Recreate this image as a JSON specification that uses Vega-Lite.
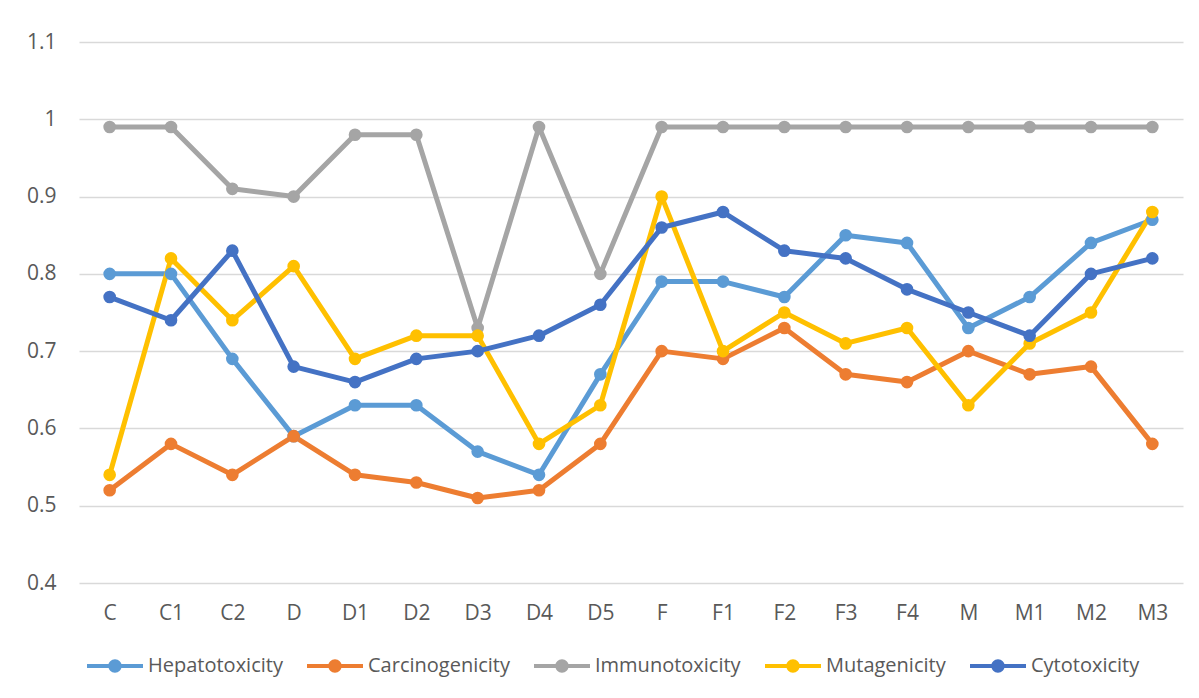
{
  "$schema": "https://vega.github.io/schema/vega-lite/v6.json",
  "width": 1104,
  "height": 541,
  "autosize": {"type": "none"},
  "padding": {"left": 79, "top": 42, "right": 16, "bottom": 115},
  "background": "white",
  "config": {
    "view": {"stroke": null},
    "font": "Open Sans",
    "axis": {"labelFont": "Open Sans", "labelFontSize": 21, "labelColor": "#595959", "gridColor": "#D9D9D9", "gridWidth": 1.5, "domain": false, "ticks": false, "title": null},
    "legend": {"labelFont": "Open Sans", "labelFontSize": 20, "labelColor": "#595959"}
  },
  "data": {
    "values": [
      {"cat": "C", "series": "Hepatotoxicity", "v": 0.80},
      {"cat": "C1", "series": "Hepatotoxicity", "v": 0.80},
      {"cat": "C2", "series": "Hepatotoxicity", "v": 0.69},
      {"cat": "D", "series": "Hepatotoxicity", "v": 0.59},
      {"cat": "D1", "series": "Hepatotoxicity", "v": 0.63},
      {"cat": "D2", "series": "Hepatotoxicity", "v": 0.63},
      {"cat": "D3", "series": "Hepatotoxicity", "v": 0.57},
      {"cat": "D4", "series": "Hepatotoxicity", "v": 0.54},
      {"cat": "D5", "series": "Hepatotoxicity", "v": 0.67},
      {"cat": "F", "series": "Hepatotoxicity", "v": 0.79},
      {"cat": "F1", "series": "Hepatotoxicity", "v": 0.79},
      {"cat": "F2", "series": "Hepatotoxicity", "v": 0.77},
      {"cat": "F3", "series": "Hepatotoxicity", "v": 0.85},
      {"cat": "F4", "series": "Hepatotoxicity", "v": 0.84},
      {"cat": "M", "series": "Hepatotoxicity", "v": 0.73},
      {"cat": "M1", "series": "Hepatotoxicity", "v": 0.77},
      {"cat": "M2", "series": "Hepatotoxicity", "v": 0.84},
      {"cat": "M3", "series": "Hepatotoxicity", "v": 0.87},
      {"cat": "C", "series": "Carcinogenicity", "v": 0.52},
      {"cat": "C1", "series": "Carcinogenicity", "v": 0.58},
      {"cat": "C2", "series": "Carcinogenicity", "v": 0.54},
      {"cat": "D", "series": "Carcinogenicity", "v": 0.59},
      {"cat": "D1", "series": "Carcinogenicity", "v": 0.54},
      {"cat": "D2", "series": "Carcinogenicity", "v": 0.53},
      {"cat": "D3", "series": "Carcinogenicity", "v": 0.51},
      {"cat": "D4", "series": "Carcinogenicity", "v": 0.52},
      {"cat": "D5", "series": "Carcinogenicity", "v": 0.58},
      {"cat": "F", "series": "Carcinogenicity", "v": 0.70},
      {"cat": "F1", "series": "Carcinogenicity", "v": 0.69},
      {"cat": "F2", "series": "Carcinogenicity", "v": 0.73},
      {"cat": "F3", "series": "Carcinogenicity", "v": 0.67},
      {"cat": "F4", "series": "Carcinogenicity", "v": 0.66},
      {"cat": "M", "series": "Carcinogenicity", "v": 0.70},
      {"cat": "M1", "series": "Carcinogenicity", "v": 0.67},
      {"cat": "M2", "series": "Carcinogenicity", "v": 0.68},
      {"cat": "M3", "series": "Carcinogenicity", "v": 0.58},
      {"cat": "C", "series": "Immunotoxicity", "v": 0.99},
      {"cat": "C1", "series": "Immunotoxicity", "v": 0.99},
      {"cat": "C2", "series": "Immunotoxicity", "v": 0.91},
      {"cat": "D", "series": "Immunotoxicity", "v": 0.90},
      {"cat": "D1", "series": "Immunotoxicity", "v": 0.98},
      {"cat": "D2", "series": "Immunotoxicity", "v": 0.98},
      {"cat": "D3", "series": "Immunotoxicity", "v": 0.73},
      {"cat": "D4", "series": "Immunotoxicity", "v": 0.99},
      {"cat": "D5", "series": "Immunotoxicity", "v": 0.80},
      {"cat": "F", "series": "Immunotoxicity", "v": 0.99},
      {"cat": "F1", "series": "Immunotoxicity", "v": 0.99},
      {"cat": "F2", "series": "Immunotoxicity", "v": 0.99},
      {"cat": "F3", "series": "Immunotoxicity", "v": 0.99},
      {"cat": "F4", "series": "Immunotoxicity", "v": 0.99},
      {"cat": "M", "series": "Immunotoxicity", "v": 0.99},
      {"cat": "M1", "series": "Immunotoxicity", "v": 0.99},
      {"cat": "M2", "series": "Immunotoxicity", "v": 0.99},
      {"cat": "M3", "series": "Immunotoxicity", "v": 0.99},
      {"cat": "C", "series": "Mutagenicity", "v": 0.54},
      {"cat": "C1", "series": "Mutagenicity", "v": 0.82},
      {"cat": "C2", "series": "Mutagenicity", "v": 0.74},
      {"cat": "D", "series": "Mutagenicity", "v": 0.81},
      {"cat": "D1", "series": "Mutagenicity", "v": 0.69},
      {"cat": "D2", "series": "Mutagenicity", "v": 0.72},
      {"cat": "D3", "series": "Mutagenicity", "v": 0.72},
      {"cat": "D4", "series": "Mutagenicity", "v": 0.58},
      {"cat": "D5", "series": "Mutagenicity", "v": 0.63},
      {"cat": "F", "series": "Mutagenicity", "v": 0.90},
      {"cat": "F1", "series": "Mutagenicity", "v": 0.70},
      {"cat": "F2", "series": "Mutagenicity", "v": 0.75},
      {"cat": "F3", "series": "Mutagenicity", "v": 0.71},
      {"cat": "F4", "series": "Mutagenicity", "v": 0.73},
      {"cat": "M", "series": "Mutagenicity", "v": 0.63},
      {"cat": "M1", "series": "Mutagenicity", "v": 0.71},
      {"cat": "M2", "series": "Mutagenicity", "v": 0.75},
      {"cat": "M3", "series": "Mutagenicity", "v": 0.88},
      {"cat": "C", "series": "Cytotoxicity", "v": 0.77},
      {"cat": "C1", "series": "Cytotoxicity", "v": 0.74},
      {"cat": "C2", "series": "Cytotoxicity", "v": 0.83},
      {"cat": "D", "series": "Cytotoxicity", "v": 0.68},
      {"cat": "D1", "series": "Cytotoxicity", "v": 0.66},
      {"cat": "D2", "series": "Cytotoxicity", "v": 0.69},
      {"cat": "D3", "series": "Cytotoxicity", "v": 0.70},
      {"cat": "D4", "series": "Cytotoxicity", "v": 0.72},
      {"cat": "D5", "series": "Cytotoxicity", "v": 0.76},
      {"cat": "F", "series": "Cytotoxicity", "v": 0.86},
      {"cat": "F1", "series": "Cytotoxicity", "v": 0.88},
      {"cat": "F2", "series": "Cytotoxicity", "v": 0.83},
      {"cat": "F3", "series": "Cytotoxicity", "v": 0.82},
      {"cat": "F4", "series": "Cytotoxicity", "v": 0.78},
      {"cat": "M", "series": "Cytotoxicity", "v": 0.75},
      {"cat": "M1", "series": "Cytotoxicity", "v": 0.72},
      {"cat": "M2", "series": "Cytotoxicity", "v": 0.80},
      {"cat": "M3", "series": "Cytotoxicity", "v": 0.82}
    ]
  },
  "encoding": {
    "x": {
      "field": "cat", "type": "nominal", "sort": null,
      "scale": {"type": "point", "padding": 0.5},
      "axis": {"labelAngle": 0, "labelPadding": 19, "grid": false, "labelFontSize": 21, "labelFont": "Open Sans"}
    },
    "y": {
      "field": "v", "type": "quantitative",
      "scale": {"domain": [0.4, 1.1], "nice": false, "zero": false},
      "axis": {"values": [0.4, 0.5, 0.6, 0.7, 0.8, 0.9, 1.0, 1.1], "format": "~g", "labelPadding": 23, "grid": true, "labelFontSize": 21, "labelFont": "Open Sans"}
    },
    "color": {
      "field": "series", "type": "nominal",
      "scale": {
        "domain": ["Hepatotoxicity", "Carcinogenicity", "Immunotoxicity", "Mutagenicity", "Cytotoxicity"],
        "range": ["#5B9BD5", "#ED7D31", "#A5A5A5", "#FFC000", "#4472C4"]
      },
      "legend": {
        "title": null,
        "orient": "none",
        "direction": "horizontal",
        "legendX": 8,
        "legendY": 596,
        "columnPadding": 24,
        "labelOffset": 5,
        "labelFontSize": 20,
        "symbolType": "M-1,-0.07H-0.2V0.07H-1Z M0.2,-0.07H1V0.07H0.2Z M-0.24,0A0.24,0.24 0 1,1 0.24,0A0.24,0.24 0 1,1 -0.24,0Z",
        "symbolSize": 3136,
        "symbolStrokeWidth": 0,
        "symbolOpacity": 1
      }
    }
  },
  "layer": [
    {"mark": {"type": "line", "strokeWidth": 5, "strokeJoin": "round", "strokeCap": "round"}},
    {"mark": {"type": "point", "filled": true, "opacity": 1, "size": 160}}
  ]
}
